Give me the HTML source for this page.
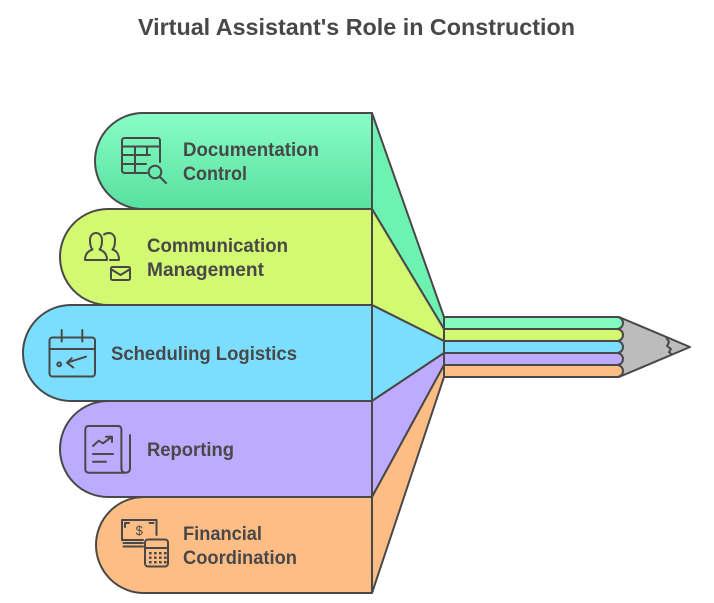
<!DOCTYPE html>
<html>
<head>
<meta charset="utf-8">
<style>
html,body{margin:0;padding:0;background:#fff;}
svg{display:block;}
text{font-family:"Liberation Sans",Arial,sans-serif;font-weight:bold;fill:#484848;}
</style>
</head>
<body>
<svg width="714" height="603" viewBox="0 0 714 603" xmlns="http://www.w3.org/2000/svg">
<defs>
<linearGradient id="gGreen" x1="0" y1="0" x2="0" y2="1">
<stop offset="0" stop-color="#88fdc5"/>
<stop offset="1" stop-color="#58e0a0"/>
</linearGradient>
</defs>

<text x="138" y="35" font-size="23" textLength="437" lengthAdjust="spacingAndGlyphs">Virtual Assistant's Role in Construction</text>

<g stroke="#484848" stroke-width="2" stroke-linejoin="round">
<!-- pencil tip -->
<polygon points="619,317 690,347 619,377" fill="#bcbcbc"/>
<path d="M666,337 L669,342 L667,346 L671,349 L669,352 L672,355" fill="none"/>

<!-- funnels -->
<polygon points="372,113 444,317 444,329 372,209" fill="#6ef2b2"/>
<polygon points="372,209 444,329 444,341 372,305" fill="#d3f871"/>
<polygon points="372,305 444,341 444,353 372,401" fill="#7cdefe"/>
<polygon points="372,401 444,353 444,365 372,497" fill="#bcabfe"/>
<polygon points="372,497 444,365 444,377 372,593" fill="#febd84"/>

<!-- stripes -->
<path d="M444,317 H617 a6 6 0 0 1 0 12 H444 Z" fill="#84fbc1"/>
<path d="M444,329 H617 a6 6 0 0 1 0 12 H444 Z" fill="#d3f871"/>
<path d="M444,341 H617 a6 6 0 0 1 0 12 H444 Z" fill="#7cdefe"/>
<path d="M444,353 H617 a6 6 0 0 1 0 12 H444 Z" fill="#bcabfe"/>
<path d="M444,365 H617 a6 6 0 0 1 0 12 H444 Z" fill="#febd84"/>

<!-- bands -->
<path d="M372,113 H143 A48 48 0 0 0 143,209 H372 Z" fill="url(#gGreen)"/>
<path d="M372,209 H108 A48 48 0 0 0 108,305 H372 Z" fill="#d3f871"/>
<path d="M372,305 H71 A48 48 0 0 0 71,401 H372 Z" fill="#7cdefe"/>
<path d="M372,401 H108 A48 48 0 0 0 108,497 H372 Z" fill="#bcabfe"/>
<path d="M372,497 H144 A48 48 0 0 0 144,593 H372 Z" fill="#febd84"/>
</g>

<!-- icons -->
<g stroke="#484848" stroke-width="2" fill="none" stroke-linecap="round" stroke-linejoin="round">
<!-- documentation: table + magnifier -->
<path d="M147,173 H124.5 a2.5 2.5 0 0 1 -2.5 -2.5 V140.5 a2.5 2.5 0 0 1 2.5 -2.5 H157.5 a2.5 2.5 0 0 1 2.5 2.5 V162"/>
<path d="M122,146.5 H160 M122,155 H150 M122,164 H146 M135,146.5 V173 M147,146.5 V155"/>
<circle cx="155" cy="172" r="6.3"/>
<path d="M159.5,176.5 L166,183"/>

<!-- communication: people + envelope -->
<path d="M85,260 C85,254 88,251 92.5,249.5 C90.5,247.5 90,244 90,240 C90,236 92.5,233 96,233 C99.5,233 102,236 102,240 C102,244 101.5,247.5 99.5,249.5 C104,251 107,254 107,260 Z"/>
<path d="M104,234.5 C105.5,233.5 107,233 109,233 C112.5,233 115,236 115,240 C115,244 114.5,247.5 112.5,249.5 C117,251 119,254 119,260 H110"/>
<rect x="111" y="267" width="19" height="13" rx="1.5"/>
<path d="M111.5,269.5 L120.5,275 L129.5,269.5"/>

<!-- scheduling: calendar -->
<rect x="49.5" y="337.5" width="45.5" height="39" rx="3"/>
<path d="M49.5,349 H95 M61.7,330 V341.5 M82.3,330 V341.5"/>
<circle cx="59.2" cy="364.3" r="1.9"/>
<path d="M86,356.7 L67,362.7 M71.7,358.3 L67,362.7 L73.3,367.5"/>

<!-- reporting: document -->
<path d="M130,435 V468 q0,4.7 -4.5,4.7 H89 q-3.7,0 -3.7,-3.7 V429.7 q0,-3.7 3.7,-3.7 H117.7 q3.7,0 3.7,3.7 V468 q0,4.7 4.2,4.7"/>
<path d="M93,446 L98.7,440.7 L103,443.3 L112,436.7 M106,436.7 H112 V442"/>
<path d="M93,454 H113 M93,461.7 H106"/>

<!-- financial: bill + calculator -->
<path d="M143,540 H122 V520 H156.5 V535"/>
<path d="M125,523 H129 M125,523 V527 M153.5,523 H149.5 M122,538 V540"/>
<path d="M123.5,543 H143 M123.5,546.5 H143"/>
<rect x="145" y="539.5" width="23" height="27" rx="3"/>
<path d="M145,548 H168"/>
</g>
<text x="139.3" y="535" font-size="13" text-anchor="middle" style="font-weight:normal">$</text>
<g fill="#484848">
<rect x="149" y="552" width="2.6" height="2.4"/><rect x="154" y="552" width="2.6" height="2.4"/><rect x="159" y="552" width="2.6" height="2.4"/><rect x="164" y="552" width="2.6" height="2.4"/>
<rect x="149" y="556.5" width="2.6" height="2.4"/><rect x="154" y="556.5" width="2.6" height="2.4"/><rect x="159" y="556.5" width="2.6" height="2.4"/><rect x="164" y="556.5" width="2.6" height="2.4"/>
<rect x="149" y="561" width="2.6" height="2.4"/><rect x="154" y="561" width="2.6" height="2.4"/><rect x="159" y="561" width="2.6" height="2.4"/><rect x="164" y="561" width="2.6" height="2.4"/>
</g>

<!-- labels -->
<text x="183" y="156" font-size="19" textLength="136" lengthAdjust="spacingAndGlyphs">Documentation</text>
<text x="183" y="180" font-size="19" textLength="64" lengthAdjust="spacingAndGlyphs">Control</text>
<text x="147" y="252" font-size="19" textLength="141" lengthAdjust="spacingAndGlyphs">Communication</text>
<text x="147" y="276" font-size="19" textLength="117" lengthAdjust="spacingAndGlyphs">Management</text>
<text x="111" y="360" font-size="19" textLength="186" lengthAdjust="spacingAndGlyphs">Scheduling Logistics</text>
<text x="147" y="456" font-size="19" textLength="87" lengthAdjust="spacingAndGlyphs">Reporting</text>
<text x="183" y="540" font-size="19" textLength="79" lengthAdjust="spacingAndGlyphs">Financial</text>
<text x="183" y="564" font-size="19" textLength="114" lengthAdjust="spacingAndGlyphs">Coordination</text>
</svg>
</body>
</html>
